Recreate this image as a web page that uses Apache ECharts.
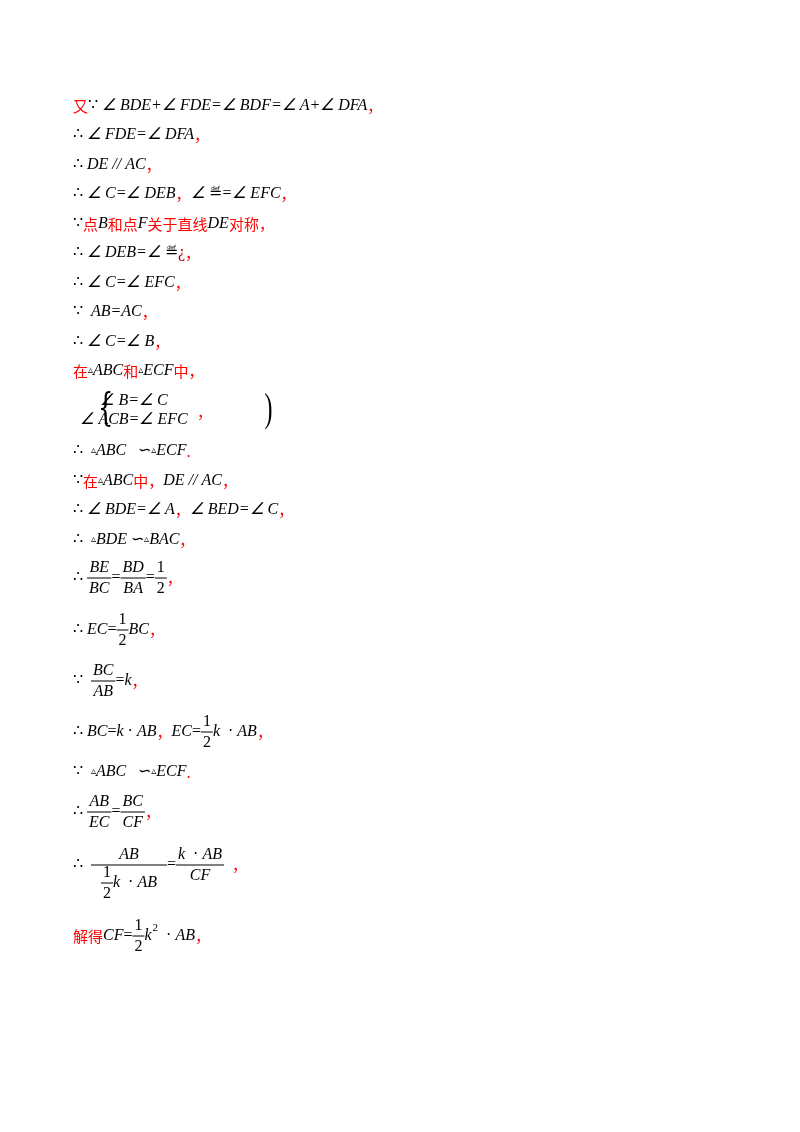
<!DOCTYPE html>
<html>
<head>
<meta charset="utf-8">
<script src="https://cdn.jsdelivr.net/npm/echarts@6/dist/echarts.min.js"></script>
<style>html,body{margin:0;background:#fff}#main{width:800px;height:1132px}</style>
</head>
<body>
<div id="main"></div>
<script>
"use strict";

// prefixes: r = red CJK, k = black regular, i = black italic math
var half = { n: ['k:1'], d: ['k:2'] };
var rowY = [106, 135, 165, 194, 224, 253, 283, 312, 342, 371, 451, 481, 510, 540, 578, 630, 681, 732, 772, 812, 865, 936];
var rowContent = [
    ['r:又', 'k:∵ ', 'i:∠ BDE+∠ FDE=∠ BDF=∠ A+∠ DFA', 'r:，'],
    ['k:∴ ', 'i:∠ FDE=∠ DFA', 'r:，'],
    ['k:∴ ', 'i:DE // AC', 'r:，'],
    ['k:∴ ', 'i:∠ C=∠ DEB', 'r:，', 'i:∠ ', 'k:≝', 'i:=∠ EFC', 'r:，'],
    ['k:∵', 'r:点', 'i:B', 'r:和点', 'i:F', 'r:关于直线', 'i:DE', 'r:对称，'],
    ['k:∴ ', 'i:∠ DEB=∠ ', 'k:≝', 'd:¿', 'r:，'],
    ['k:∴ ', 'i:∠ C=∠ EFC', 'r:，'],
    ['k:∵  ', 'i:AB=AC', 'r:，'],
    ['k:∴ ', 'i:∠ C=∠ B', 'r:，'],
    ['r:在', 't:▵', 'i:ABC', 'r:和', 't:▵', 'i:ECF', 'r:中，'],
    ['k:∴  ', 't:▵', 'i:ABC   ', 'k:∽', 't:▵', 'i:ECF', 'r:.'],
    ['k:∵', 'r:在', 't:▵', 'i:ABC', 'r:中，', 'i:DE // AC', 'r:，'],
    ['k:∴ ', 'i:∠ BDE=∠ A', 'r:，', 'i:∠ BED=∠ C', 'r:，'],
    ['k:∴  ', 't:▵', 'i:BDE ', 'k:∽', 't:▵', 'i:BAC', 'r:，'],
    ['k:∴ ', { n: ['i:BE'], d: ['i:BC'] }, 'k:=', { n: ['i:BD'], d: ['i:BA'] }, 'k:=', half, 'r:，'],
    ['k:∴ ', 'i:EC', 'k:=', half, 'i:BC', 'r:，'],
    ['k:∵  ', { n: ['i:BC'], d: ['i:AB'] }, 'k:=', 'i:k', 'r:，'],
    ['k:∴ ', 'i:BC', 'k:=', 'i:k ', 'k:· ', 'i:AB', 'r:，', 'i:EC', 'k:=', half, 'i:k  ', 'k:· ', 'i:AB', 'r:，'],
    ['k:∵  ', 't:▵', 'i:ABC   ', 'k:∽', 't:▵', 'i:ECF', 'r:.'],
    ['k:∴ ', { n: ['i:AB'], d: ['i:EC'] }, 'k:=', { n: ['i:BC'], d: ['i:CF'] }, 'r:，'],
    ['k:∴  ', { n: ['i:AB'], d: [half, 'i:k  ', 'k:· ', 'i:AB'], pad: 10 }, 'k:=', { n: ['i:k  ', 'k:· ', 'i:AB'], d: ['i:CF'], pad: 2 }, 'k:  ', 'r:，'],
    ['r:解得', 'i:CF', 'k:=', half, 'i:k', { sup: '2' }, 'k:  · ', 'i:AB', 'r:，']
];
var braceRows = ['∠ B=∠ C', '∠ ACB=∠ EFC'];

var fonts = {
    r: '15px "Noto Sans CJK SC"',
    k: '16px "Liberation Serif"',
    i: 'italic 16px "Liberation Serif"',
    t: '10px "DejaVu Sans"',
    d: '16px "Liberation Serif"'
};
var colors = { r: '#ff0000', k: '#000', i: '#000', t: '#000', d: '#a00000' };
var ctx = document.createElement('canvas').getContext('2d');
var elements = [];

function textWidth(font, s) { ctx.font = font; return ctx.measureText(s).width; }
function hasFrac(list) { return list.some(function (s) { return s.n; }); }

function width(list) {
    var w = 0;
    list.forEach(function (s) {
        if (typeof s === 'string') w += textWidth(fonts[s[0]], s.slice(2));
        else if (s.sup) w += textWidth('11px "Liberation Serif"', s.sup) + 1;
        else w += Math.max(width(s.n), width(s.d)) + 2 * (s.pad || 2);
    });
    return w;
}

function draw(list, x, y) {
    list.forEach(function (s) {
        if (typeof s === 'string') {
            var f = s[0], txt = s.slice(2);
            elements.push({ type: 'text', x: x, y: y + (f === 't' ? -1 : 0), style: { text: txt, font: fonts[f], fill: colors[f], verticalAlign: 'middle' } });
            x += textWidth(fonts[f], txt);
        } else if (s.sup) {
            elements.push({ type: 'text', x: x + 1, y: y - 8, style: { text: s.sup, font: '11px "Liberation Serif"', fill: '#000', verticalAlign: 'middle' } });
            x += textWidth('11px "Liberation Serif"', s.sup) + 1;
        } else {
            var wn = width(s.n), wd = width(s.d), pad = s.pad || 2;
            var w = Math.max(wn, wd) + 2 * pad;
            elements.push({ type: 'line', shape: { x1: x, y1: y, x2: x + w, y2: y }, style: { stroke: '#000', lineWidth: 1 } });
            draw(s.n, x + (w - wn) / 2, y - (hasFrac(s.n) ? 19 : 10));
            draw(s.d, x + (w - wd) / 2, y + (hasFrac(s.d) ? 18 : 11));
            x += w;
        }
    });
}

var rowsBefore = 10;
rowContent.forEach(function (segs, i) { draw(segs, 73, rowY[i]); });

// brace block between rows
elements.push({ type: 'text', x: 70, y: 410, style: { text: '{', font: '300 40px "DejaVu Serif"', fill: '#000', verticalAlign: 'middle' }, scaleX: 0.6, originX: 70, originY: 410 });
braceRows.forEach(function (t, i) {
    elements.push({ type: 'text', x: 134, y: 401 + i * 19, style: { text: t, font: fonts.i, fill: '#000', align: 'center', verticalAlign: 'middle' } });
});
elements.push({ type: 'text', x: 189, y: 410, style: { text: ')', font: '40px "Liberation Serif"', fill: '#000', verticalAlign: 'middle' }, scaleX: 0.6, originX: 189, originY: 410 });
elements.push({ type: 'text', x: 197, y: 412, style: { text: '，', font: fonts.r, fill: '#ff0000', verticalAlign: 'middle' } });

var chart = echarts.init(document.getElementById('main'));
chart.setOption({ backgroundColor: '#fff', animation: false, graphic: { elements: elements } });
</script>
</body>
</html>
